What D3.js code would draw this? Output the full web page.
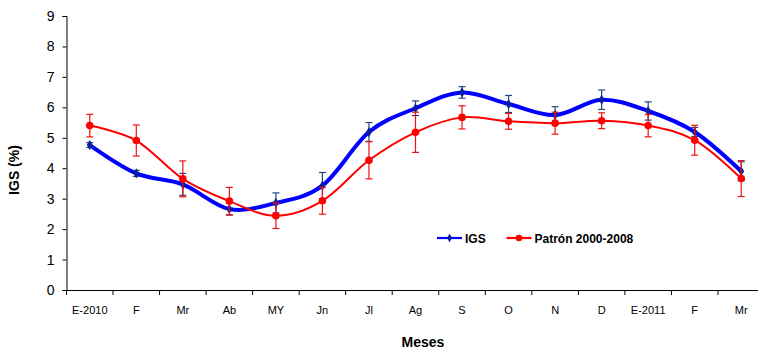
<!DOCTYPE html>
<html lang="es">
<head>
<meta charset="UTF-8">
<title>IGS mensual</title>
<script src="https://d3js.org/d3.v7.min.js"></script>
<style>
  body { margin: 0; background: #fff; }
  svg { font-family: "Liberation Sans", Arial, sans-serif; }
  .axis-title { font-size: 14px; font-weight: bold; }
  .legend text { font-size: 12px; font-weight: bold; }
</style>
</head>
<body>
<svg id="chart" width="758" height="349"></svg>
<script>
  // data
  const months = ['E-2010', 'F', 'Mr', 'Ab', 'MY', 'Jn', 'Jl', 'Ag', 'S', 'O', 'N', 'D', 'E-2011', 'F ', 'Mr '];
  const igs = [4.76, 3.83, 3.47, 2.66, 2.86, 3.43, 5.19, 5.97, 6.49, 6.11, 5.75, 6.25, 5.88, 5.19, 3.90];
  const igsErr = [0.08, 0.10, 0.36, 0.20, 0.33, 0.43, 0.31, 0.24, 0.19, 0.28, 0.27, 0.32, 0.30, 0.15, 0.31];
  const patron = [5.40, 4.91, 3.65, 2.92, 2.44, 2.93, 4.26, 5.18, 5.67, 5.54, 5.48, 5.56, 5.40, 4.92, 3.66];
  const patronErr = [0.37, 0.51, 0.59, 0.45, 0.42, 0.44, 0.61, 0.66, 0.38, 0.26, 0.36, 0.26, 0.37, 0.49, 0.59];
  const yTicks = [0, 1, 2, 3, 4, 5, 6, 7, 8, 9];

  const svg = d3.select('#chart');
  const plotLeft = 66.5, plotRight = 764.5, plotTop = 16, plotBottom = 290;

  const x = d3.scaleBand().domain(months).range([plotLeft, plotRight]);
  const y = d3.scaleLinear().domain([0, 9]).range([plotBottom, plotTop]);
  const cx = m => x(m) + x.bandwidth() / 2;

  // axes
  const yAxis = svg.append('g')
    .attr('transform', `translate(${plotLeft},0)`)
    .call(d3.axisLeft(y).tickValues(yTicks).tickSize(4).tickPadding(8));
  yAxis.selectAll('text').style('font-size', '14px').attr('fill', '#000');
  yAxis.select('.domain').attr('stroke', '#000');

  const xAxis = svg.append('g')
    .attr('transform', `translate(0,${plotBottom})`)
    .call(d3.axisBottom(x).tickSize(0).tickPadding(16));
  xAxis.selectAll('text').style('font-size', '11px').attr('fill', '#000');
  xAxis.select('.domain').attr('stroke', '#000');
  // tick marks between categories
  xAxis.selectAll('.sep')
    .data(months)
    .enter()
    .append('line')
    .attr('x1', d => x(d)).attr('x2', d => x(d))
    .attr('y1', 0).attr('y2', 5)
    .attr('stroke', '#000');

  svg.append('text')
    .attr('class', 'axis-title')
    .attr('transform', 'translate(19,170) rotate(-90)')
    .attr('text-anchor', 'middle')
    .text('IGS (%)');

  svg.append('text')
    .attr('class', 'axis-title')
    .attr('x', 423)
    .attr('y', 347)
    .attr('text-anchor', 'middle')
    .text('Meses');

  const line = d3.line()
    .x((d, i) => cx(months[i]))
    .y(d => y(d))
    .curve(d3.curveCardinal.tension(0));

  function errorBars(vals, errs, color, width) {
    const g = svg.append('g').attr('stroke', color).attr('stroke-width', width);
    vals.forEach((v, i) => {
      const xm = cx(months[i]);
      g.append('line').attr('x1', xm).attr('x2', xm).attr('y1', y(v - errs[i])).attr('y2', y(v + errs[i]));
      g.append('line').attr('x1', xm - 3.5).attr('x2', xm + 3.5).attr('y1', y(v - errs[i])).attr('y2', y(v - errs[i]));
      g.append('line').attr('x1', xm - 3.5).attr('x2', xm + 3.5).attr('y1', y(v + errs[i])).attr('y2', y(v + errs[i]));
    });
  }

  // IGS series
  svg.append('path')
    .datum(igs)
    .attr('d', line)
    .attr('fill', 'none')
    .attr('stroke', '#0000ff')
    .attr('stroke-width', 4);
  errorBars(igs, igsErr, '#24477f', 1.2);
  svg.selectAll('.igs-pt')
    .data(igs)
    .enter()
    .append('path')
    .attr('class', 'igs-pt')
    .attr('transform', (d, i) => `translate(${cx(months[i])},${y(d)})`)
    .attr('d', d3.symbol(d3.symbolDiamond, 30))
    .attr('fill', '#0a1f9a');

  // Patron series
  svg.append('path')
    .datum(patron)
    .attr('d', line)
    .attr('fill', 'none')
    .attr('stroke', '#ff0000')
    .attr('stroke-width', 2);
  errorBars(patron, patronErr, '#ee1111', 1.2);
  svg.selectAll('.pat-pt')
    .data(patron)
    .enter()
    .append('circle')
    .attr('class', 'pat-pt')
    .attr('cx', (d, i) => cx(months[i]))
    .attr('cy', d => y(d))
    .attr('r', 3.8)
    .attr('fill', '#ff0000');

  // legend
  const legend = svg.append('g').attr('class', 'legend');
  const items = [
    { name: 'IGS', color: '#0000ff', x0: 437 },
    { name: 'Patrón 2000-2008', color: '#ff0000', x0: 506.5 }
  ];
  items.forEach(it => {
    const g = legend.append('g').attr('transform', `translate(${it.x0},238)`);
    g.append('line').attr('x1', 0).attr('x2', 25).attr('stroke', it.color).attr('stroke-width', 2.2);
    if (it.name === 'IGS') {
      g.append('path').attr('transform', 'translate(12.5,0)').attr('d', d3.symbol(d3.symbolDiamond, 22)).attr('fill', '#0a1f9a');
    } else {
      g.append('circle').attr('cx', 12.5).attr('r', 3.3).attr('fill', it.color);
    }
    g.append('text').attr('x', 28).attr('y', 4.5).text(it.name);
  });
</script>
</body>
</html>
